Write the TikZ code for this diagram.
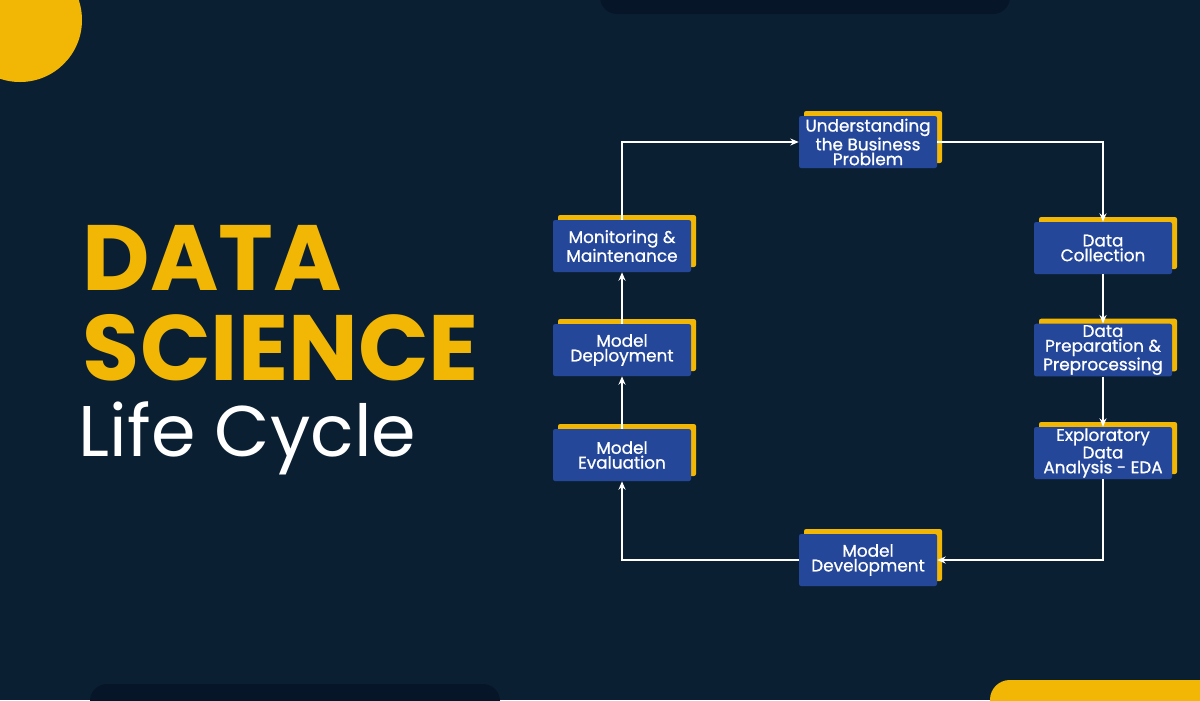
\documentclass[tikz,border=0pt]{standalone}
\usepackage{fontspec}
\setmainfont{Poppins}
\newfontfamily\boxfont[FakeBold=0.9]{Poppins}
\usetikzlibrary{arrows.meta}
\definecolor{bg}{HTML}{0B1F33}
\definecolor{bar}{HTML}{061628}
\definecolor{yel}{HTML}{F2B705}
\definecolor{boxb}{HTML}{24479A}
\begin{document}
\begin{tikzpicture}[x=0.025cm,y=-0.025cm,
  stage/.style={fill=boxb,text=white,minimum width=138*0.025cm,minimum height=52*0.025cm,
    rounded corners=1.5pt,align=center,font=\boxfont\fontsize{12}{10.5}\selectfont,inner sep=1pt,
    preaction={fill=yel,transform canvas={shift={(5*0.025cm,5*0.025cm)}}}},
  conn/.style={white,line width=0.9pt,-{Stealth[length=6pt,width=5pt]}}]
\fill[bg] (0,0) rectangle (1200,700);
\useasboundingbox (0,0) rectangle (1200,700);
\begin{scope}
\clip (0,0) rectangle (1200,700);
\fill[yel] (20,20) circle (62);
\fill[bar,rounded corners=12pt] (600,-30) rectangle (1010,14);
\fill[bar,rounded corners=12pt] (90,684) rectangle (500,730);
\fill[yel,rounded corners=14pt] (990,680) rectangle (1230,740);
\end{scope}
\node[anchor=west,text=yel,font=\fontsize{66}{66}\selectfont\bfseries] at (78,258) {DATA};
\node[anchor=west,text=yel,font=\fontsize{66}{66}\selectfont\bfseries] at (78,348) {SCIENCE};
\node[anchor=west,text=white,font=\fontsize{51}{51}\selectfont] at (74,438) {Life Cycle};
\node[stage] (u) at (868,142) {Understanding\\the Business\\Problem};
\node[stage] (dc) at (1103,248) {Data\\Collection};
\node[stage] (dp) at (1103,350) {Data\\Preparation \&\\Preprocessing};
\node[stage] (eda) at (1103,453) {Exploratory\\Data\\Analysis - EDA};
\node[stage] (md) at (868,560) {Model\\Development};
\node[stage] (me) at (622,455) {Model\\Evaluation};
\node[stage] (mdp) at (622,350) {Model\\Deployment};
\node[stage] (mm) at (622,246) {Monitoring \&\\Maintenance};
\draw[conn] (u.east) -| (dc.north);
\draw[conn] (dc) -- (dp);
\draw[conn] (dp) -- (eda);
\draw[conn] (eda.south) |- (md.east);
\draw[conn] (md.west) -| (me.south);
\draw[conn] (me) -- (mdp);
\draw[conn] (mdp) -- (mm);
\draw[conn] (mm.north) |- (u.west);
\end{tikzpicture}
\end{document}
